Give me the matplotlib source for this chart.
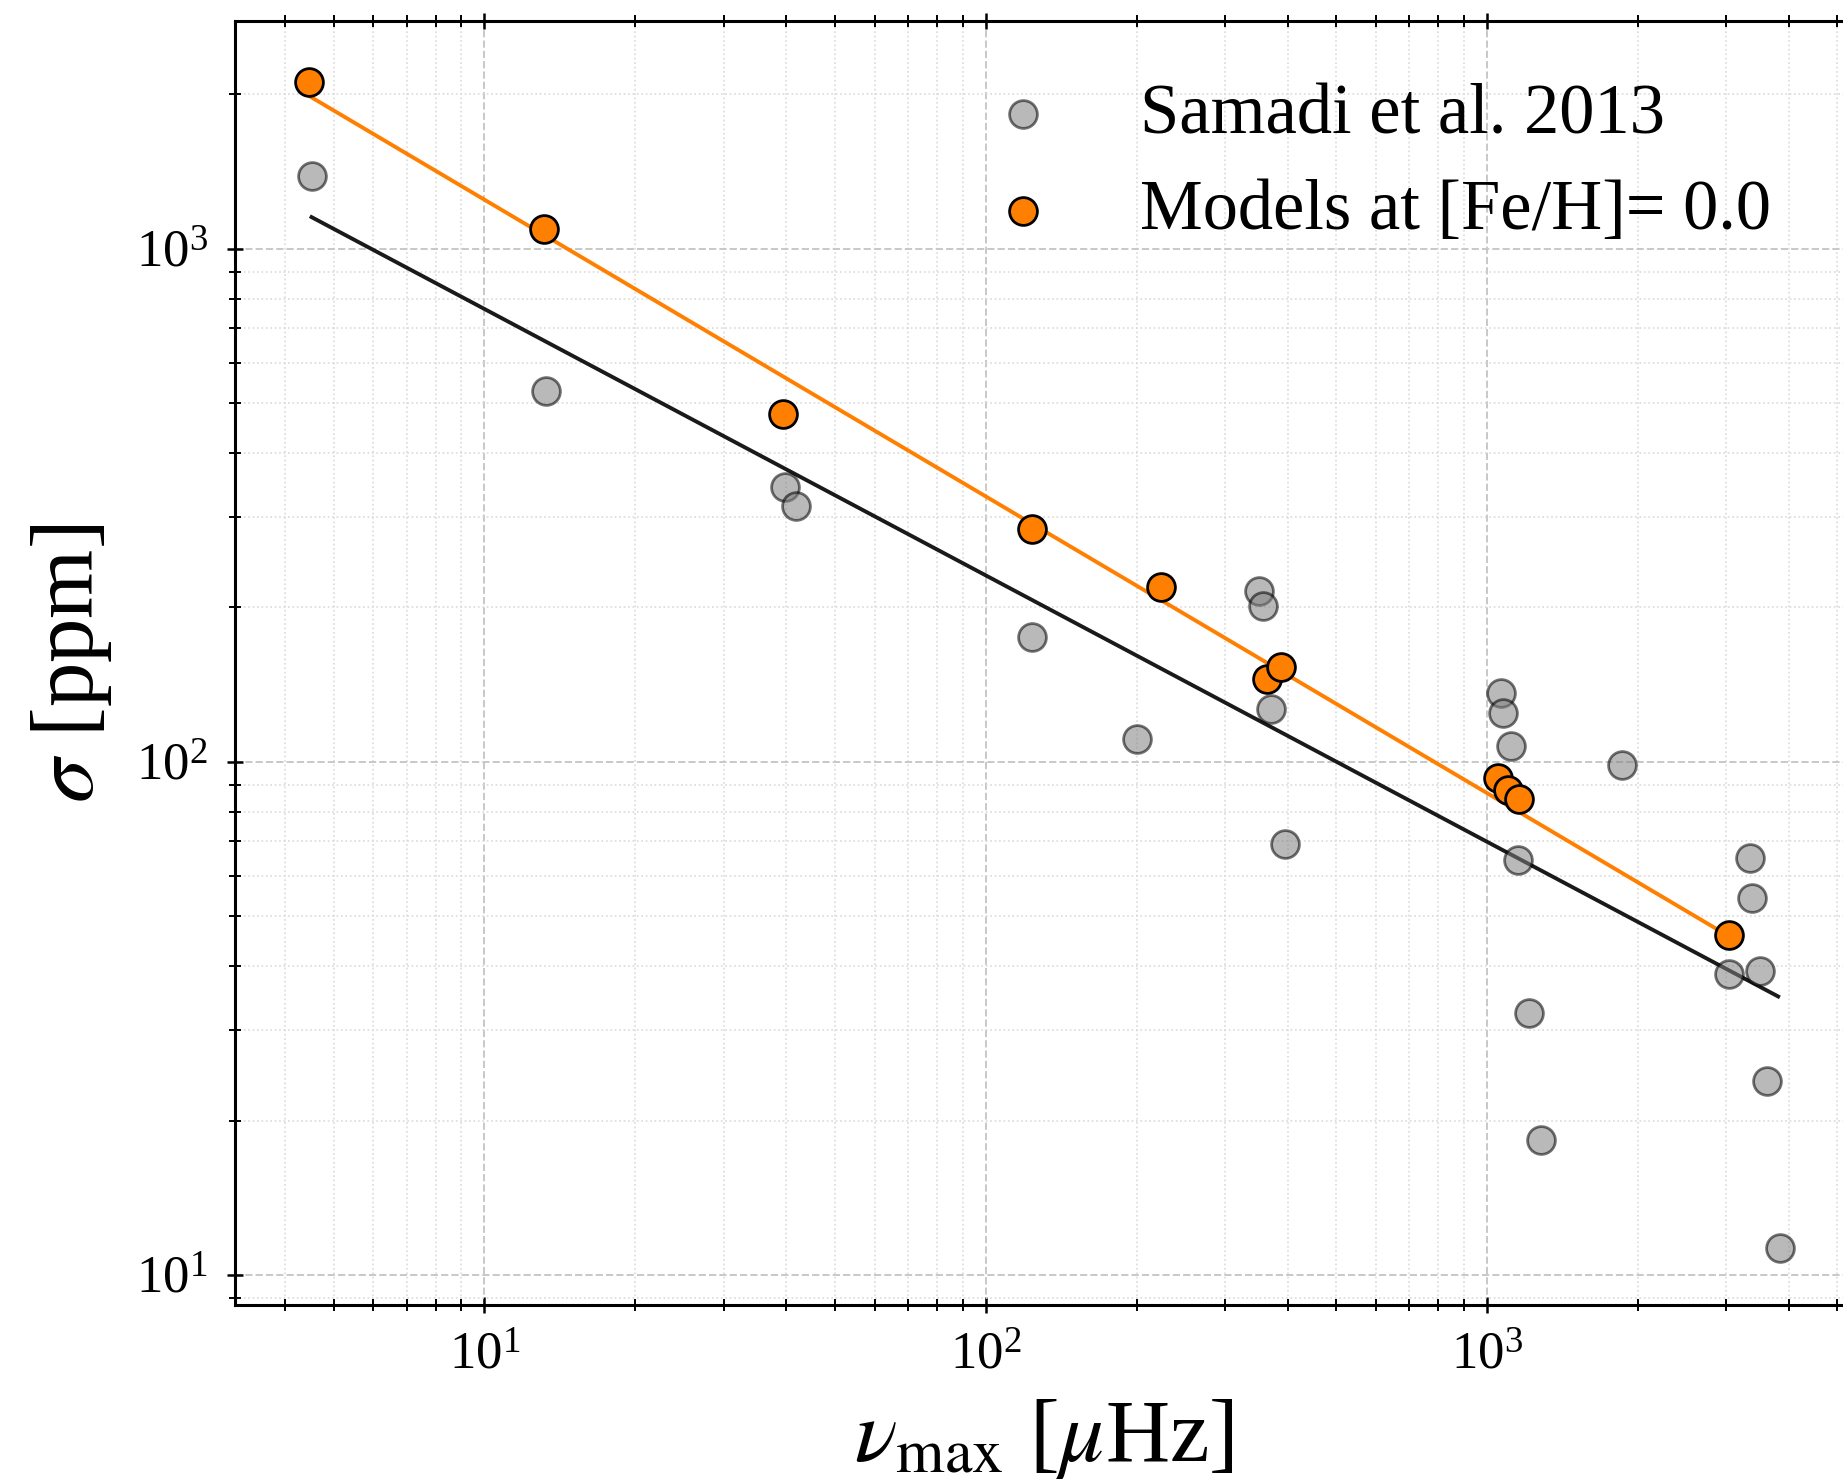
import numpy as np
import matplotlib
matplotlib.use("Agg")
import matplotlib.pyplot as plt

# Observed granulation amplitudes (Samadi et al. 2013)
obs_numax = [4.52, 13.24, 39.8, 41.8, 123.8, 200, 351, 358, 370, 395,
             1067, 1078, 1114, 1151, 1214, 1282, 1860,
             3041, 3351, 3370, 3499, 3614, 3836]
obs_sigma = [1387, 528, 343, 315, 175, 110.8, 215, 201, 127, 69.3,
             136, 124.5, 107.4, 64.4, 32.4, 18.3, 98.7,
             38.6, 65.1, 54.4, 39.2, 23.9, 11.3]

# Solar-metallicity models
mod_numax = [4.47, 13.17, 39.4, 123.8, 224, 364, 389, 1050, 1102, 1157, 3041]
mod_sigma = [2115, 1094, 477, 285, 219, 145, 153, 93.1, 88.3, 84.7, 45.9]

# Power-law fits (end points)
fit_mod_numax = [4.47, 3041]
fit_mod_sigma = [1986, 45.7]
fit_obs_numax = [4.52, 3808]
fit_obs_sigma = [1153, 34.9]

plt.rcParams['font.family'] = ['Liberation Serif', 'DejaVu Serif']
plt.rcParams['mathtext.fontset'] = 'stix'

W, H, DPI = 1843, 1484, 200
fig = plt.figure(figsize=(W / DPI, H / DPI), dpi=DPI)
left, right = 235 / W, 1853 / W
bottom, top = 1 - 1305 / H, 1 - 21 / H
ax = fig.add_axes([left, bottom, right - left, top - bottom])
ax.set_xscale('log')
ax.set_yscale('log')
ax.set_xlim(3.18, 5370)
ax.set_ylim(8.74, 2780)

orange = '#ff7f00'
ax.plot(fit_mod_numax, fit_mod_sigma, color=orange, lw=1.4, zorder=3)
ax.plot(fit_obs_numax, fit_obs_sigma, color='#1a1a1a', lw=1.4, zorder=3)
ax.scatter(obs_numax, obs_sigma, s=100, c='gray', edgecolors='black',
           linewidths=1.0, alpha=0.55, zorder=4, label='Samadi et al. 2013')
ax.scatter(mod_numax, mod_sigma, s=100, c=orange, edgecolors='black',
           linewidths=1.0, zorder=5, label='Models at [Fe/H]= 0.0')

ax.grid(True, which='major', ls='--', color='#c8c8c8', lw=0.7)
ax.grid(True, which='minor', ls=':', color='#dadada', lw=0.6)
ax.set_axisbelow(True)

for s in ax.spines.values():
    s.set_linewidth(1.1)
ax.spines['right'].set_visible(False)
ax.tick_params(which='both', direction='inout', top=True, right=False,
               labelsize=19, pad=7)
ax.tick_params(which='major', length=5.5, width=0.9)
ax.tick_params(which='minor', length=4, width=0.7)

ax.set_xlabel(r'$\nu_{\rm max}$ [$\mu$Hz]', fontsize=32, labelpad=6)
ax.set_ylabel(r'$\sigma$ [ppm]', fontsize=32, labelpad=8)

ax.legend(loc='upper left', bbox_to_anchor=(995 / W, 1 - 83 / H),
          bbox_transform=fig.transFigure, frameon=False, fontsize=25.4,
          scatterpoints=1, handlelength=0.8, handletextpad=1.25,
          labelspacing=0.44, borderpad=0, borderaxespad=0)

fig.savefig('out.png', dpi=DPI)
